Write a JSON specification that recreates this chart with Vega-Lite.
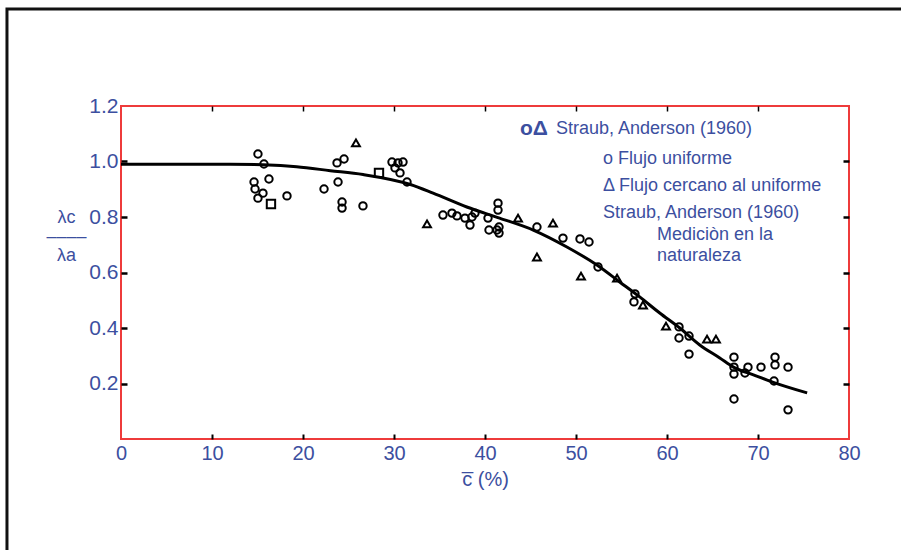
{
  "$schema": "https://vega.github.io/schema/vega-lite/v6.json",
  "width": 728,
  "height": 333,
  "autosize": {"type": "none"},
  "padding": {"left": 121, "top": 106, "right": 52, "bottom": 111},
  "background": "white",
  "config": {
    "view": {"stroke": "#ee3b3b", "strokeWidth": 2},
    "font": "Liberation Sans"
  },
  "datasets": {
    "frame": [{"x": -12.53, "x2": 86.7, "y": 1.55, "y2": -0.44}],
    "curve": [
      {"c": 0, "r": 0.99}, {"c": 5, "r": 0.99}, {"c": 10, "r": 0.99}, {"c": 12, "r": 0.99},
      {"c": 15.6, "r": 0.988}, {"c": 19.3, "r": 0.981}, {"c": 23.0, "r": 0.967}, {"c": 26.6, "r": 0.953},
      {"c": 31.8, "r": 0.917}, {"c": 34.3, "r": 0.886}, {"c": 38.0, "r": 0.836}, {"c": 41.6, "r": 0.796},
      {"c": 45.3, "r": 0.753}, {"c": 49.0, "r": 0.692}, {"c": 52.3, "r": 0.627}, {"c": 54.8, "r": 0.566},
      {"c": 57.0, "r": 0.512}, {"c": 59.2, "r": 0.454}, {"c": 61.4, "r": 0.400}, {"c": 63.6, "r": 0.339},
      {"c": 65.8, "r": 0.292}, {"c": 67.3, "r": 0.259}, {"c": 69.5, "r": 0.231}, {"c": 71.6, "r": 0.205},
      {"c": 75.4, "r": 0.166}
    ],
    "points": [
      {"c": 15.05, "r": 1.027, "tipo": "o"}, {"c": 15.71, "r": 0.991, "tipo": "o"}, {"c": 14.62, "r": 0.926, "tipo": "o"},
      {"c": 14.73, "r": 0.901, "tipo": "o"}, {"c": 16.26, "r": 0.937, "tipo": "o"}, {"c": 15.60, "r": 0.886, "tipo": "o"},
      {"c": 15.05, "r": 0.868, "tipo": "o"}, {"c": 16.48, "r": 0.847, "tipo": "s"}, {"c": 18.24, "r": 0.876, "tipo": "o"},
      {"c": 22.31, "r": 0.901, "tipo": "o"}, {"c": 23.85, "r": 0.926, "tipo": "o"}, {"c": 23.74, "r": 0.995, "tipo": "o"},
      {"c": 24.51, "r": 1.009, "tipo": "o"}, {"c": 25.82, "r": 1.067, "tipo": "t"}, {"c": 24.29, "r": 0.854, "tipo": "o"},
      {"c": 24.29, "r": 0.832, "tipo": "o"}, {"c": 26.59, "r": 0.840, "tipo": "o"}, {"c": 28.35, "r": 0.959, "tipo": "s"},
      {"c": 29.78, "r": 0.998, "tipo": "o"}, {"c": 30.44, "r": 0.995, "tipo": "o"}, {"c": 30.99, "r": 0.998, "tipo": "o"},
      {"c": 30.11, "r": 0.977, "tipo": "o"}, {"c": 30.66, "r": 0.959, "tipo": "o"}, {"c": 31.43, "r": 0.926, "tipo": "o"},
      {"c": 33.63, "r": 0.775, "tipo": "t"}, {"c": 35.38, "r": 0.807, "tipo": "o"}, {"c": 36.37, "r": 0.814, "tipo": "o"},
      {"c": 36.92, "r": 0.804, "tipo": "o"}, {"c": 37.80, "r": 0.796, "tipo": "o"}, {"c": 38.57, "r": 0.800, "tipo": "o"},
      {"c": 38.90, "r": 0.814, "tipo": "o"}, {"c": 38.35, "r": 0.771, "tipo": "o"}, {"c": 40.33, "r": 0.796, "tipo": "o"},
      {"c": 40.44, "r": 0.753, "tipo": "o"}, {"c": 41.32, "r": 0.753, "tipo": "o"}, {"c": 41.54, "r": 0.764, "tipo": "o"},
      {"c": 41.54, "r": 0.742, "tipo": "o"}, {"c": 41.43, "r": 0.850, "tipo": "o"}, {"c": 41.43, "r": 0.825, "tipo": "o"},
      {"c": 43.63, "r": 0.796, "tipo": "t"}, {"c": 45.71, "r": 0.764, "tipo": "o"}, {"c": 47.47, "r": 0.778, "tipo": "t"},
      {"c": 45.71, "r": 0.656, "tipo": "t"}, {"c": 48.57, "r": 0.724, "tipo": "o"}, {"c": 50.44, "r": 0.721, "tipo": "o"},
      {"c": 51.43, "r": 0.710, "tipo": "o"}, {"c": 50.55, "r": 0.587, "tipo": "t"}, {"c": 52.42, "r": 0.620, "tipo": "o"},
      {"c": 54.51, "r": 0.580, "tipo": "t"}, {"c": 56.48, "r": 0.523, "tipo": "o"}, {"c": 56.37, "r": 0.494, "tipo": "o"},
      {"c": 57.36, "r": 0.483, "tipo": "t"}, {"c": 59.89, "r": 0.407, "tipo": "t"}, {"c": 61.32, "r": 0.404, "tipo": "o"},
      {"c": 61.32, "r": 0.364, "tipo": "o"}, {"c": 62.42, "r": 0.371, "tipo": "o"}, {"c": 62.42, "r": 0.306, "tipo": "o"},
      {"c": 64.40, "r": 0.360, "tipo": "t"}, {"c": 65.38, "r": 0.360, "tipo": "t"}, {"c": 67.36, "r": 0.295, "tipo": "o"},
      {"c": 67.36, "r": 0.259, "tipo": "o"}, {"c": 67.36, "r": 0.234, "tipo": "o"}, {"c": 68.57, "r": 0.238, "tipo": "o"},
      {"c": 68.90, "r": 0.259, "tipo": "o"}, {"c": 70.33, "r": 0.259, "tipo": "o"}, {"c": 71.87, "r": 0.295, "tipo": "o"},
      {"c": 71.87, "r": 0.267, "tipo": "o"}, {"c": 71.76, "r": 0.209, "tipo": "o"}, {"c": 73.30, "r": 0.259, "tipo": "o"},
      {"c": 67.36, "r": 0.144, "tipo": "o"}, {"c": 73.30, "r": 0.105, "tipo": "o"}
    ],
    "notesBig": [{"c": 43.85, "r": 1.117, "texto": "oΔ"}],
    "notes": [
      {"c": 47.8, "r": 1.117, "texto": "Straub, Anderson (1960)"},
      {"c": 52.97, "r": 1.009, "texto": "o Flujo uniforme"},
      {"c": 52.97, "r": 0.912, "texto": "Δ Flujo cercano al uniforme"},
      {"c": 52.97, "r": 0.814, "texto": "Straub, Anderson (1960)"},
      {"c": 58.9, "r": 0.735, "texto": "Mediciòn en la"},
      {"c": 58.9, "r": 0.659, "texto": "naturaleza"}
    ]
  },
  "layer": [
    {
      "data": {"name": "frame"},
      "mark": {"type": "rect", "fill": null, "fillOpacity": 0, "stroke": "#111111", "strokeWidth": 3, "clip": false},
      "encoding": {
        "x": {"field": "x", "type": "quantitative", "scale": {"domain": [0, 80], "nice": false, "zero": false}, "axis": null},
        "x2": {"field": "x2"},
        "y": {"field": "y", "type": "quantitative", "scale": {"domain": [0, 1.2], "nice": false, "zero": false}, "axis": null},
        "y2": {"field": "y2"}
      }
    },
    {
      "data": {"name": "curve"},
      "mark": {"type": "line", "color": "#000000", "strokeWidth": 3, "interpolate": "monotone"},
      "encoding": {
        "x": {
          "field": "c", "type": "quantitative",
          "scale": {"domain": [0, 80], "nice": false, "zero": false},
          "axis": {
            "orient": "bottom", "values": [0, 10, 20, 30, 40, 50, 60, 70, 80],
            "domain": false, "grid": false, "labelFlush": false,
            "tickSize": -5, "tickWidth": 2, "tickColor": "#000000",
            "tickOpacity": {"condition": {"test": "datum.value <= 0 || datum.value >= 80", "value": 0}, "value": 1},
            "labelColor": "#3c4fa0", "labelFontSize": 20, "labelPadding": 9, "labelFont": "Liberation Sans",
            "title": "c̅ (%)", "titleColor": "#3c4fa0", "titleFontSize": 20, "titleFontWeight": "normal",
            "titleFont": "Liberation Sans", "titlePadding": 6
          }
        },
        "y": {
          "field": "r", "type": "quantitative",
          "scale": {"domain": [0, 1.2], "nice": false, "zero": false},
          "axis": {
            "orient": "left", "values": [0.2, 0.4, 0.6, 0.8, 1.0, 1.2], "format": ".1f",
            "domain": false, "grid": false, "labelFlush": false,
            "tickSize": -6, "tickWidth": 2.5, "tickColor": "#000000",
            "tickOpacity": {"condition": {"test": "datum.value >= 1.2", "value": 0}, "value": 1},
            "labelColor": "#3c4fa0", "labelFontSize": 21, "labelPadding": 9, "labelFont": "Liberation Sans",
            "title": ["λc", "––––", "λa"], "titleColor": "#3c4fa0", "titleFontSize": 18, "titleFontWeight": "normal",
            "titleFont": "Liberation Sans", "titleAngle": 0, "titleAlign": "center", "titleBaseline": "top",
            "titleLineHeight": 19, "titleX": -55, "titleY": 102
          }
        }
      }
    },
    {
      "data": {"name": "points"},
      "mark": {"type": "point", "filled": false, "strokeWidth": 2, "color": "#000000", "opacity": 1},
      "encoding": {
        "x": {
          "field": "c", "type": "quantitative",
          "scale": {"domain": [0, 80], "nice": false, "zero": false},
          "axis": {
            "orient": "top", "values": [10, 20, 30, 40, 50, 60, 70], "labels": false, "title": null,
            "domain": false, "grid": false, "tickSize": -5, "tickWidth": 1.5, "tickColor": "#000000"
          }
        },
        "y": {
          "field": "r", "type": "quantitative",
          "scale": {"domain": [0, 1.2], "nice": false, "zero": false},
          "axis": {
            "orient": "right", "values": [0.2, 0.4, 0.6, 0.8, 1.0], "labels": false, "title": null,
            "domain": false, "grid": false, "tickSize": -6, "tickWidth": 2.5, "tickColor": "#000000"
          }
        },
        "shape": {
          "field": "tipo", "type": "nominal",
          "scale": {"domain": ["o", "t", "s"], "range": ["circle", "triangle-up", "square"]},
          "legend": null
        },
        "size": {
          "field": "tipo", "type": "nominal",
          "scale": {"domain": ["o", "t", "s"], "range": [55, 70, 55]},
          "legend": null
        }
      }
    },
    {
      "data": {"name": "notesBig"},
      "mark": {"type": "text", "align": "left", "baseline": "middle", "fontSize": 21, "fontWeight": "bold", "font": "Liberation Sans", "color": "#3c4fa0"},
      "encoding": {
        "x": {"field": "c", "type": "quantitative", "scale": {"domain": [0, 80], "nice": false, "zero": false}, "axis": null},
        "y": {"field": "r", "type": "quantitative", "scale": {"domain": [0, 1.2], "nice": false, "zero": false}, "axis": null},
        "text": {"field": "texto"}
      }
    },
    {
      "data": {"name": "notes"},
      "mark": {"type": "text", "align": "left", "baseline": "middle", "fontSize": 18, "font": "Liberation Sans", "color": "#3c4fa0"},
      "encoding": {
        "x": {"field": "c", "type": "quantitative", "scale": {"domain": [0, 80], "nice": false, "zero": false}, "axis": null},
        "y": {"field": "r", "type": "quantitative", "scale": {"domain": [0, 1.2], "nice": false, "zero": false}, "axis": null},
        "text": {"field": "texto"}
      }
    }
  ],
  "resolve": {"axis": {"x": "independent", "y": "independent"}}
}
